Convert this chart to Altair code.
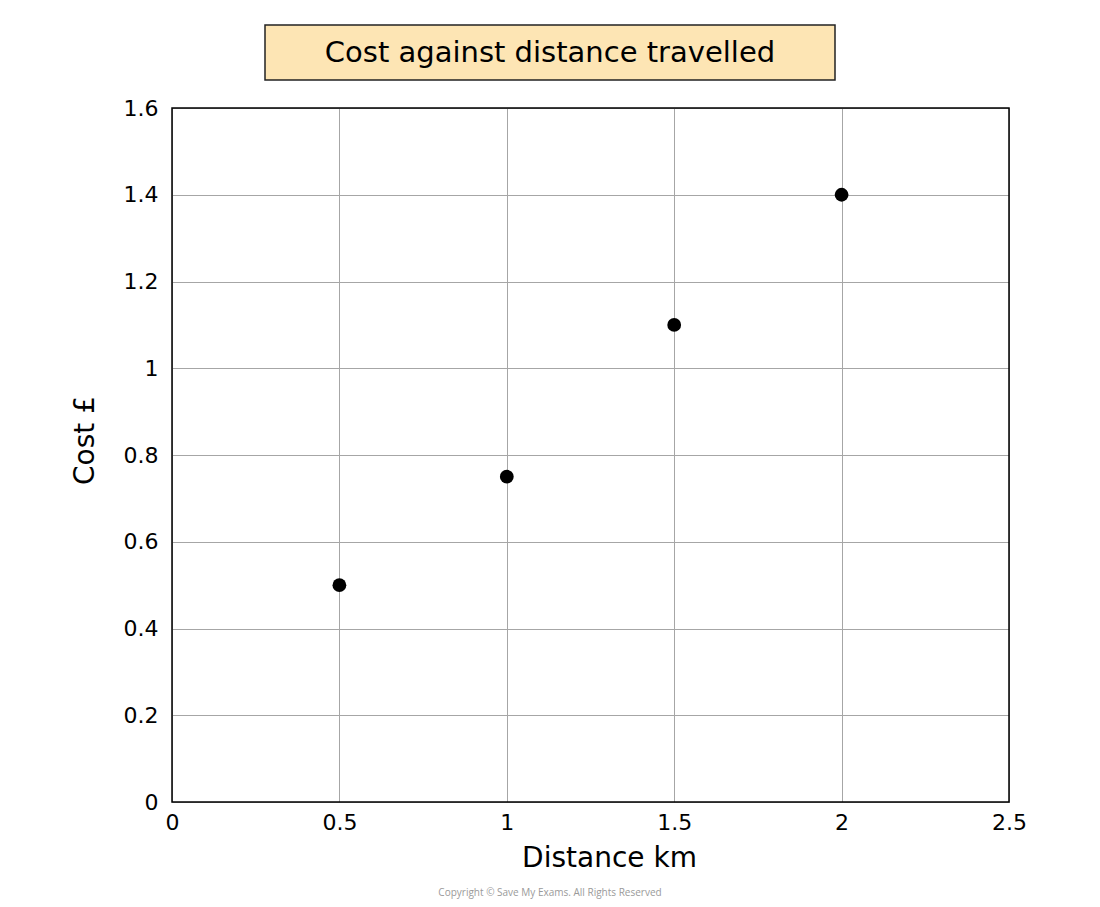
import altair as alt
import pandas as pd

distance_km = [0.5, 1.0, 1.5, 2.0]
cost_gbp = [0.5, 0.75, 1.1, 1.4]
x_ticks = [0, 0.5, 1, 1.5, 2, 2.5]
y_ticks = [0, 0.2, 0.4, 0.6, 0.8, 1, 1.2, 1.4, 1.6]
title_text = "Cost against distance travelled"
copyright_text = "Copyright © Save My Exams. All Rights Reserved"

FONT = "DejaVu Sans"
W, H = 837, 694

df = pd.DataFrame({"d": distance_km, "c": cost_gbp})

x_enc = alt.X("d:Q", scale=alt.Scale(domain=[0, 2.5], nice=False),
              axis=alt.Axis(values=x_ticks, title="Distance km", grid=True,
                            gridColor="#a6a6a6", gridWidth=1, ticks=False, domain=False,
                            labelFont=FONT, labelFontSize=22, labelColor="black",
                            labelPadding=10, labelFlush=False,
                            titleFont=FONT, titleFontSize=28, titleFontWeight="normal",
                            titleColor="black", titlePadding=11, titleX=437,
                            labelExpr="format(datum.value, '')"))
y_enc = alt.Y("c:Q", scale=alt.Scale(domain=[0, 1.6], nice=False),
              axis=alt.Axis(values=y_ticks, title="Cost £", grid=True,
                            gridColor="#a6a6a6", gridWidth=1, ticks=False, domain=False,
                            labelFont=FONT, labelFontSize=22, labelColor="black",
                            labelPadding=14, labelFlush=False,
                            titleFont=FONT, titleFontSize=28, titleFontWeight="normal",
                            titleColor="black", titlePadding=24, titleY=332,
                            labelExpr="format(datum.value, '')"))

points = alt.Chart(df).mark_circle(size=190, color="black", opacity=1).encode(x=x_enc, y=y_enc)

border = alt.Chart(pd.DataFrame({"t": [0]})).mark_rect(
    fill=None, fillOpacity=0, stroke="black", strokeWidth=1.5
).encode(x=alt.value(0), x2=alt.value(W), y=alt.value(0), y2=alt.value(H))

box = alt.Chart(pd.DataFrame({"t": [title_text]})).mark_rect(
    fill="#fde5b4", stroke="#222222", strokeWidth=1.5
).encode(x=alt.value(265 - 172), x2=alt.value(835 - 172),
         y=alt.value(25 - 108), y2=alt.value(80 - 108))

title = alt.Chart(pd.DataFrame({"t": [title_text]})).mark_text(
    font=FONT, fontSize=29, color="black", align="center", baseline="middle"
).encode(text="t:N", x=alt.value(550 - 172), y=alt.value(53 - 108))

copy = alt.Chart(pd.DataFrame({"t": [copyright_text]})).mark_text(
    font="Open Sans", fontSize=10, color="#9a9a9a", align="center", baseline="middle"
).encode(text="t:N", x=alt.value(550 - 172), y=alt.value(893 - 108))

chart = alt.layer(box, title, points, border, copy).properties(
    width=W, height=H,
    autosize=alt.AutoSizeParams(type="none"),
    padding={"left": 164, "top": 100, "right": 70, "bottom": 104},
).configure_view(stroke=None).configure(background="white")

chart.save("out.html", embed_options={"renderer": "svg", "actions": False})
